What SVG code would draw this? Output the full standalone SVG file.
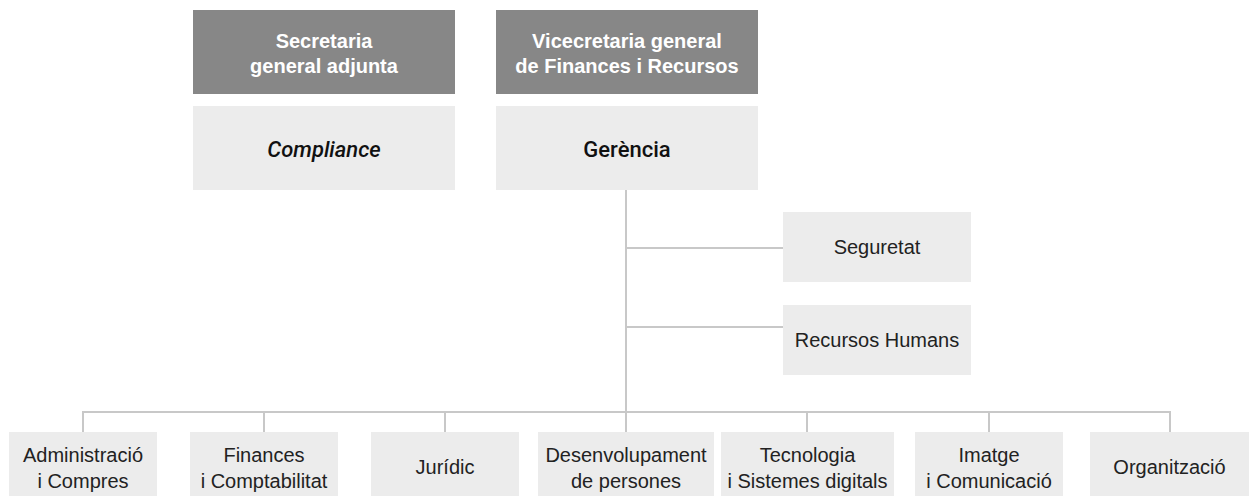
<svg xmlns="http://www.w3.org/2000/svg" width="1251" height="496" viewBox="0 0 1251 496">
<style>
.dark{fill:#878787}
.light{fill:#ececec}
.t{font-family:"Liberation Sans",Arial,sans-serif;font-size:20px;fill:#222;text-anchor:middle}
.h{font-family:"Liberation Sans",Arial,sans-serif;font-size:20px;font-weight:bold;fill:#fff;text-anchor:middle}
.m{font-family:Roboto,"Liberation Sans",sans-serif;font-size:22px;font-weight:500;fill:#111;text-anchor:middle}
.c{fill:none;stroke:#c8c8c8;stroke-width:2}
</style>
<rect width="1251" height="496" fill="#fff"/>
<g id="connectors">
<path class="c" d="M626 190 V432"/>
<path class="c" d="M626 248 H783"/>
<path class="c" d="M626 327 H783"/>
<path class="c" d="M83 432 V412 H1170 V432"/>
<path class="c" d="M264 412 V432"/>
<path class="c" d="M445 412 V432"/>
<path class="c" d="M807 412 V432"/>
<path class="c" d="M989 412 V432"/>
</g>
<g id="secretaria">
<rect class="dark" x="193" y="10" width="262" height="84"/>
<text class="h" x="324" y="48">Secretaria</text>
<text class="h" x="324" y="73">general adjunta</text>
</g>
<g id="vicecretaria">
<rect class="dark" x="496" y="10" width="262" height="84"/>
<text class="h" x="627" y="48">Vicecretaria general</text>
<text class="h" x="627" y="73">de Finances i Recursos</text>
</g>
<g id="compliance">
<rect class="light" x="193" y="106" width="262" height="84"/>
<text class="m" x="324" y="157" font-style="italic">Compliance</text>
</g>
<g id="gerencia">
<rect class="light" x="496" y="106" width="262" height="84"/>
<text class="m" x="627" y="157">Gerència</text>
</g>
<g id="seguretat">
<rect class="light" x="783" y="212" width="188" height="70"/>
<text class="t" x="877" y="254">Seguretat</text>
</g>
<g id="recursos-humans">
<rect class="light" x="783" y="305" width="188" height="70"/>
<text class="t" x="877" y="347">Recursos Humans</text>
</g>
<g id="administracio">
<rect class="light" x="9" y="432" width="148" height="70"/>
<text class="t" x="83" y="462">Administració</text>
<text class="t" x="83" y="488">i Compres</text>
</g>
<g id="finances">
<rect class="light" x="190" y="432" width="148" height="70"/>
<text class="t" x="264" y="462">Finances</text>
<text class="t" x="264" y="488">i Comptabilitat</text>
</g>
<g id="juridic">
<rect class="light" x="371" y="432" width="148" height="70"/>
<text class="t" x="445" y="474">Jurídic</text>
</g>
<g id="desenvolupament">
<rect class="light" x="538" y="432" width="176" height="70"/>
<text class="t" x="626" y="462">Desenvolupament</text>
<text class="t" x="626" y="488">de persones</text>
</g>
<g id="tecnologia">
<rect class="light" x="721" y="432" width="173" height="70"/>
<text class="t" x="807.5" y="462">Tecnologia</text>
<text class="t" x="807.5" y="488">i Sistemes digitals</text>
</g>
<g id="imatge">
<rect class="light" x="915" y="432" width="148" height="70"/>
<text class="t" x="989" y="462">Imatge</text>
<text class="t" x="989" y="488">i Comunicació</text>
</g>
<g id="organitzacio">
<rect class="light" x="1090" y="432" width="159" height="70"/>
<text class="t" x="1169.5" y="474">Organització</text>
</g>
</svg>
